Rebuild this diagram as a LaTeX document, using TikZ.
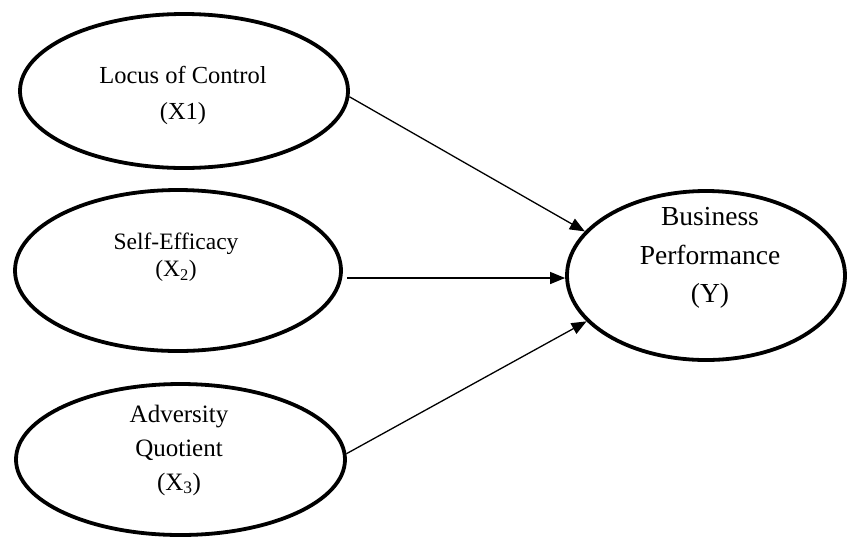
\documentclass[tikz,border=0pt]{standalone}
\usepackage{fontspec}
\setmainfont{Liberation Serif}
\usetikzlibrary{shapes.geometric,arrows.meta}
\begin{document}
\begin{tikzpicture}[x=1pt,y=-1pt,
  var/.style={ellipse,draw=black,line width=3.8pt,inner sep=0pt},
  lbl/.style={align=center,font=\fontsize{24.5}{36}\selectfont,inner sep=0pt},
  lblY/.style={align=center,font=\fontsize{27.5}{38.5}\selectfont,inner sep=0pt},
  link/.style={line width=1.3pt,-{Triangle[length=15pt,width=12pt]}}]
\useasboundingbox (0,0) rectangle (848,539);
\node[var,minimum width=328pt,minimum height=154pt] (a1) at (184,91) {};
\node[var,minimum width=326pt,minimum height=161pt] (a2) at (178,270.5) {};
\node[var,minimum width=329pt,minimum height=151pt] (a3) at (180.5,459.5) {};
\node[var,minimum width=278pt,minimum height=169pt] (y) at (706,275.5) {};
\node[lbl] (t1) at (183,95) {Locus of Control\\(X1)};
\node[lbl,font=\fontsize{23.5}{27.5}\selectfont] (t2) at (176,257) {Self-Efficacy\\(X\textsubscript{2})};
\node[lbl,font=\fontsize{25}{34}\selectfont] (t3) at (179,450) {Adversity\\Quotient\\(X\textsubscript{3})};
\node[lblY] (ty) at (710,258) {Business\\Performance\\(Y)};
\draw[link] (a1.-2.5) -- (y.160);
\coordinate (s2) at (347,278);
\draw[link] (s2) -- (s2 -| y.west);
\draw[link] (a3.2.5) -- (y.201);
\end{tikzpicture}
\end{document}
